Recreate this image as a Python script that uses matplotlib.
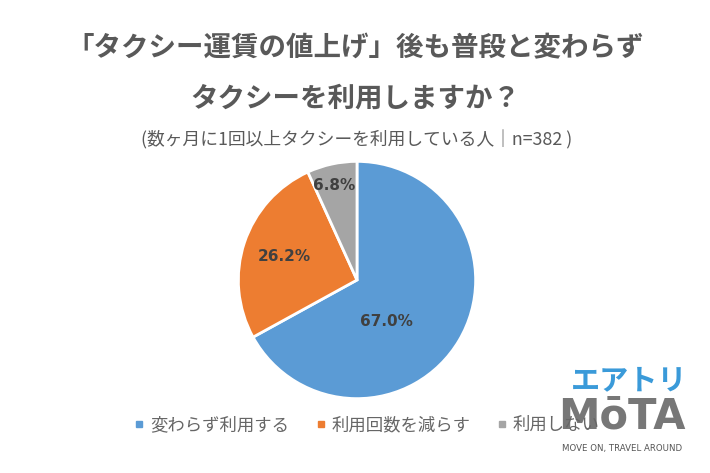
import matplotlib.pyplot as plt
from matplotlib.lines import Line2D

plt.rcParams['font.family'] = ['Noto Sans CJK JP', 'DejaVu Sans']

title_lines = ['「タクシー運賃の値上げ」後も普段と変わらず', 'タクシーを利用しますか？']
subtitle = '(数ヶ月に1回以上タクシーを利用している人｜n=382 )'
categories = ['変わらず利用する', '利用回数を減らす', '利用しない']
shares = [67.0, 26.2, 6.8]
colors = ['#5B9BD5', '#ED7D31', '#A5A5A5']
# label positions in pie coordinates (radius = 1)
label_xy = [(0.25, -0.35), (-0.61, 0.20), (-0.19, 0.80)]

fig = plt.figure(figsize=(7.1, 4.73), dpi=100)

fig.text(0.5, 1 - 48 / 473, title_lines[0], ha='center', va='center',
         fontsize=19.8, fontweight='bold', color='#595959')
fig.text(0.5, 1 - 99 / 473, title_lines[1], ha='center', va='center',
         fontsize=19.8, fontweight='bold', color='#595959')
fig.text(357 / 710, 1 - 140 / 473, subtitle, ha='center', va='center',
         fontsize=12.8, color='#595959')

# pie axes: center (357, 280) px, radius 121 px
cx, cy, r = 357, 280, 121
ax = fig.add_axes([(cx - r) / 710, (473 - cy - r) / 473, 2 * r / 710, 2 * r / 473])
wedges, _ = ax.pie(shares, colors=colors, startangle=90, counterclock=False,
                   radius=1, wedgeprops=dict(edgecolor='white', linewidth=2))
for (x, y), v in zip(label_xy, shares):
    ax.text(x, y, f'{v:.1f}%', ha='center', va='center', fontsize=11,
            fontweight='bold', color='#404040', family=['DejaVu Sans'])
ax.set_xlim(-1.02, 1.02)
ax.set_ylim(-1.02, 1.02)
ax.set_aspect('equal')
ax.axis('off')

handles = [Line2D([], [], marker='s', linestyle='none', markersize=5,
                  markerfacecolor=c, markeredgecolor=c) for c in colors]
fig.legend(handles, categories, loc='center', bbox_to_anchor=(367 / 710, 1 - 425 / 473),
           ncol=3, frameon=False, fontsize=12.5, labelcolor='#666666',
           handlelength=0.6, handletextpad=0.3, columnspacing=1.55)

# watermark
fig.text(629 / 710, 1 - 380 / 473, 'エアトリ', ha='center', va='center',
         fontsize=21, fontweight='bold', color='#3A9AD9')
fig.text(622 / 710, 1 - 416 / 473, 'MōTA', ha='center', va='center',
         fontsize=30, fontweight='bold', color='#777777', family=['DejaVu Sans'])
fig.text(622 / 710, 1 - 448 / 473, 'MOVE ON, TRAVEL AROUND', ha='center', va='center',
         fontsize=6.2, color='#555555', family=['DejaVu Sans'])

fig.savefig('out.png', dpi=100)
